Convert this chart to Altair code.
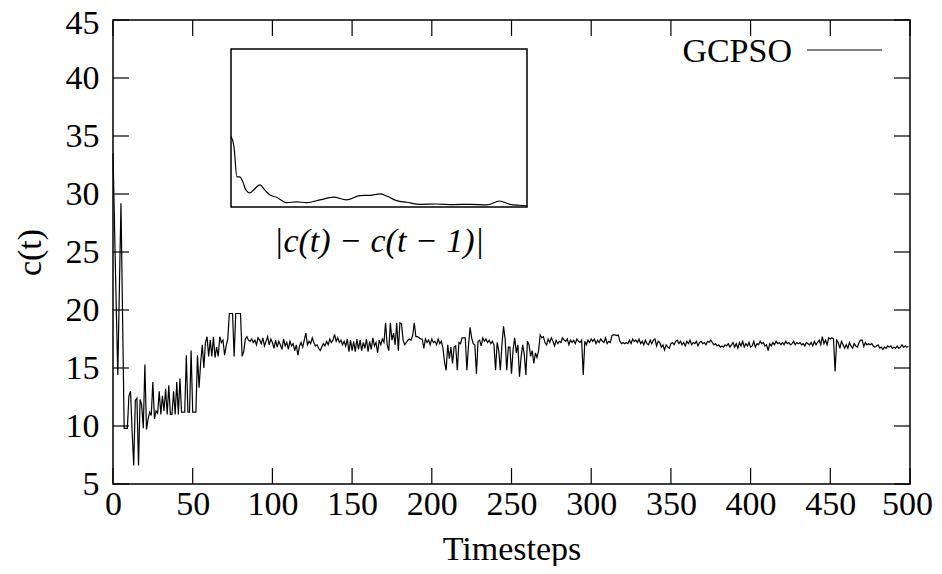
import altair as alt
import pandas as pd

# ---------------- data ----------------
timesteps = list(range(500))
c_values = [
    33.5, 27.0, 20.5, 14.4, 21.8, 29.2, 19.5, 9.8, 9.8, 9.8,
    12.6, 13.0, 9.5, 6.6, 12.2, 12.4, 6.6, 12.3, 11.8, 9.8,
    15.3, 9.7, 10.6, 11.2, 10.9, 13.8, 10.6, 11.3, 11.1, 13.0,
    11.0, 12.6, 11.3, 13.2, 11.0, 13.5, 11.0, 11.0, 13.0, 11.0,
    13.8, 11.0, 14.1, 11.2, 11.2, 11.2, 16.1, 11.2, 11.2, 16.5,
    11.2, 11.2, 11.2, 16.1, 13.3, 15.5, 17.0, 15.0, 17.2, 17.7,
    16.0, 17.4, 16.0, 17.7, 15.9, 16.8, 16.0, 17.7, 17.2, 17.4,
    16.1, 16.9, 17.5, 19.7, 19.7, 19.7, 16.0, 19.7, 19.7, 19.7,
    19.7, 16.0, 16.4, 17.5, 17.7, 17.4, 17.3, 17.5, 17.2, 17.4,
    17.0, 17.6, 17.4, 17.1, 17.6, 16.9, 17.3, 17.7, 17.0, 17.5,
    17.2, 16.7, 17.4, 16.8, 17.3, 17.0, 16.6, 17.5, 16.9, 17.2,
    16.6, 17.3, 16.9, 17.1, 16.5, 17.0, 16.1, 16.9, 17.2, 16.8,
    17.4, 18.0, 17.0, 17.3, 17.1, 17.6, 17.2, 16.9, 17.0, 16.7,
    16.5, 16.8, 17.1, 16.9, 17.3, 17.0, 17.5, 17.2, 17.4, 17.9,
    17.3, 17.6, 17.2, 17.4, 17.0, 17.3, 16.9, 17.5, 16.4, 17.4,
    16.5, 17.3, 16.4, 17.5, 16.6, 17.4, 16.5, 17.2, 16.7, 17.5,
    16.4, 17.3, 16.6, 17.6, 16.9, 17.2, 16.3, 17.4, 17.0, 17.5,
    17.2, 18.9, 17.0, 16.5, 18.9, 17.4, 18.0, 17.0, 18.9, 16.5,
    18.9, 18.8, 17.4, 17.0, 17.2, 17.4, 17.5, 17.4, 17.8, 18.9,
    17.7, 17.7, 17.6, 17.5, 17.5, 16.7, 17.5, 17.2, 17.4, 17.0,
    17.5, 17.2, 17.3, 17.0, 17.5, 17.1, 17.3, 16.7, 15.5, 14.8,
    17.0, 15.8, 16.8, 15.4, 16.8, 16.9, 14.8, 17.2, 17.1, 17.6,
    17.6, 17.6, 14.8, 16.9, 18.5, 17.6, 17.1, 17.0, 14.5, 17.3,
    17.4, 16.9, 17.6, 17.3, 17.5, 17.2, 17.4, 17.1, 17.3, 17.0,
    14.8, 17.2, 16.5, 14.8, 17.0, 18.6, 17.5, 14.8, 16.8, 16.8,
    14.5, 16.6, 17.6, 16.3, 17.0, 14.25, 15.9, 17.0, 16.2, 14.4,
    17.3, 17.0, 16.0, 16.5, 15.4, 16.3, 15.9, 16.5, 17.85, 17.6,
    17.7, 17.2, 17.0, 17.5, 17.2, 17.6, 17.3, 16.9, 17.4, 17.1,
    17.3, 17.2, 17.6, 17.4, 17.3, 17.5, 17.0, 17.4, 17.2, 17.4,
    17.1, 17.5, 17.3, 17.2, 17.4, 14.4, 17.3, 17.0, 17.4, 17.2,
    17.5, 17.3, 17.5, 17.1, 17.4, 17.2, 17.5, 17.3, 17.2, 17.6,
    17.1, 17.3, 17.2, 17.8, 17.85, 17.85, 17.8, 17.85, 17.3, 17.1,
    17.2, 17.1, 17.2, 17.1, 17.4, 17.1, 17.5, 17.3, 17.4, 17.2,
    17.5, 17.1, 17.3, 17.0, 17.4, 17.1, 17.0, 17.4, 17.1, 17.4,
    17.5, 16.9, 17.3, 17.2, 16.8, 17.0, 16.55, 17.0, 16.8, 16.7,
    17.1, 17.2, 17.0, 17.3, 17.4, 17.1, 17.3, 17.0, 17.2, 16.9,
    17.3, 17.1, 17.4, 17.0, 17.2, 17.1, 17.3, 16.9, 17.2, 17.3,
    17.1, 17.2, 17.0, 17.3, 17.2, 17.4, 17.2, 17.0, 17.1, 16.9,
    17.0, 16.8, 16.9, 16.8, 17.0, 16.9, 17.1, 16.8, 17.0, 17.2,
    16.8, 17.1, 16.7, 17.2, 16.9, 17.3, 16.8, 17.1, 16.9, 17.2,
    16.8, 16.9, 17.3, 16.8, 17.1, 17.0, 17.3, 17.1, 17.2, 16.9,
    17.0, 16.5, 17.1, 16.9, 17.2, 17.0, 17.3, 17.1, 17.2, 17.0,
    17.2, 17.0, 17.3, 17.1, 17.2, 17.0, 17.1, 17.3, 17.0, 17.2,
    17.1, 17.2, 17.0, 17.1, 16.9, 17.2, 17.1, 17.0, 17.2, 16.9,
    17.3, 17.0, 17.2, 17.4, 17.0, 17.7, 17.1, 17.4, 17.0, 17.6,
    17.5, 17.6, 17.5, 14.7, 17.4, 17.2, 16.7, 17.3, 17.0, 16.7,
    17.0, 16.7, 17.2, 16.9, 16.7, 17.1, 16.9, 16.8, 17.2, 17.4,
    17.4, 16.85, 17.2, 17.0, 17.1, 17.0, 17.1, 16.9, 16.8, 16.9,
    17.0, 16.7, 16.8, 16.6, 16.8, 16.7, 16.9, 16.8, 16.9, 16.7,
    16.8, 16.7, 16.9, 16.7, 16.8, 17.0, 16.8, 16.9, 16.8, 16.85,
]
x_ticks = [0, 50, 100, 150, 200, 250, 300, 350, 400, 450, 500]
y_ticks = [5, 10, 15, 20, 25, 30, 35, 40, 45]

inset_t = [0, 5, 10, 15, 20, 25, 32, 38, 49, 57, 66, 77, 94, 111, 128, 150,
           173, 195, 218, 235, 252, 263, 280, 297, 319, 347, 376, 404, 432,
           454, 471, 488, 500]
inset_v = [4.46, 3.82, 1.91, 1.91, 1.59, 1.08, 0.89, 1.08, 1.40, 1.08, 0.76,
           0.62, 0.28, 0.32, 0.28, 0.45, 0.62, 0.45, 0.72, 0.74, 0.83, 0.70,
           0.40, 0.30, 0.17, 0.19, 0.15, 0.17, 0.13, 0.38, 0.17, 0.11, 0.08]
inset_x_domain = [0, 500]
inset_y_domain = [0, 10]

series_name = ["GCPSO"]
inset_label = ["|c(t) \u2212 c(t \u2212 1)|"]

# ---------------- layout / style ----------------
W, H = 797, 464
FONT = "Liberation Serif"
FS = 34
TICK = 16

xs = alt.Scale(domain=[0, 500], nice=False)
ys = alt.Scale(domain=[5, 45], nice=False)

df = pd.DataFrame({"t": timesteps, "c": c_values})

line = alt.Chart(df).mark_line(color="black", strokeWidth=1.2).encode(
    x=alt.X("t:Q", scale=xs,
            axis=alt.Axis(values=x_ticks, title="Timesteps", labelPadding=3,
                          labelFlush=False, labelOverlap=False,
                          labelOffset={"condition": {"test": "datum.value === 500", "value": -3},
                                       "value": 0},
                          titleY=75, titleBaseline="alphabetic")),
    y=alt.Y("c:Q", scale=ys,
            axis=alt.Axis(values=y_ticks, title="c(t)", labelPadding=14,
                          labelFlush=False, labelOverlap=False,
                          labelOffset={"condition": {"test": "datum.value === 45", "value": 3},
                                       "value": 0},
                          titleX=-83, titleBaseline="middle")),
)

xt = pd.DataFrame({"t": x_ticks})
yt = pd.DataFrame({"c": y_ticks})
tick_style = dict(color="black", strokeWidth=1.2)

xb = alt.Chart(xt).mark_rule(**tick_style).encode(
    x=alt.X("t:Q", scale=xs, axis=None), y=alt.value(H - TICK), y2=alt.value(H))
xtp = alt.Chart(xt).mark_rule(**tick_style).encode(
    x=alt.X("t:Q", scale=xs, axis=None), y=alt.value(0), y2=alt.value(TICK))
yl = alt.Chart(yt).mark_rule(**tick_style).encode(
    y=alt.Y("c:Q", scale=ys, axis=None), x=alt.value(0), x2=alt.value(TICK))
yr = alt.Chart(yt).mark_rule(**tick_style).encode(
    y=alt.Y("c:Q", scale=ys, axis=None), x=alt.value(W - TICK), x2=alt.value(W))

leg_df = pd.DataFrame({"name": series_name})
leg_text = alt.Chart(leg_df).mark_text(
    font=FONT, fontSize=FS, align="right", baseline="middle", color="black"
).encode(x=alt.value(679), y=alt.value(32), text="name:N")
leg_line = alt.Chart(leg_df).mark_rule(color="black", strokeWidth=1.2).encode(
    x=alt.value(694), x2=alt.value(769), y=alt.value(30))

# inset
ixs = alt.Scale(domain=inset_x_domain, range=[118, 414], nice=False)
iys = alt.Scale(domain=inset_y_domain, range=[187, 29], nice=False)
frame_df = pd.DataFrame({"x0": [inset_x_domain[0]], "x1": [inset_x_domain[1]],
                         "y0": [inset_y_domain[0]], "y1": [inset_y_domain[1]]})
frame = alt.Chart(frame_df).mark_rect(fill="white", stroke="black", strokeWidth=1.5).encode(
    x=alt.X("x0:Q", scale=ixs, axis=None), x2="x1:Q",
    y=alt.Y("y0:Q", scale=iys, axis=None), y2="y1:Q")
idf = pd.DataFrame({"t": inset_t, "v": inset_v})
iline = alt.Chart(idf).mark_line(color="black", strokeWidth=1.2, interpolate="monotone").encode(
    x=alt.X("t:Q", scale=ixs, axis=None),
    y=alt.Y("v:Q", scale=iys, axis=None))
ilab = alt.Chart(pd.DataFrame({"lab": inset_label})).mark_text(
    font=FONT, fontSize=FS, fontStyle="italic", align="center", baseline="middle", color="black"
).encode(x=alt.value(266), y=alt.value(222), text="lab:N")

chart = alt.layer(line, frame, iline, xb, xtp, yl, yr, leg_text, leg_line, ilab).resolve_scale(
    x="independent", y="independent"
).properties(
    width=W, height=H,
    padding={"left": 105, "top": 12, "right": 24, "bottom": 82},
    autosize=alt.AutoSizeParams(type="none"),
).configure_view(
    stroke="black", strokeWidth=1.5
).configure_axis(
    labelFont=FONT, labelFontSize=FS, labelColor="black",
    titleFont=FONT, titleFontSize=FS, titleFontWeight="normal", titleColor="black",
    ticks=False, domain=False, grid=False,
)

chart.save("out.html", embed_options={"renderer": "svg", "actions": False})
